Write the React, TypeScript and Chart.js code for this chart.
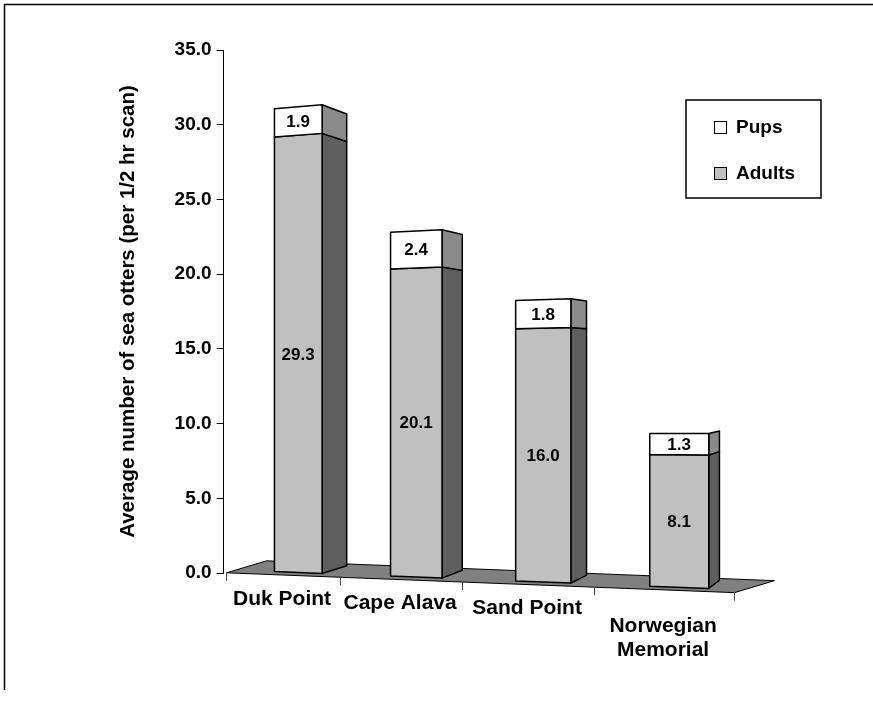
import React, { useEffect, useRef } from 'react';
import { Chart, registerables } from 'chart.js';

Chart.register(...registerables);

// ---- data ----
const categories: (string | string[])[] = ['Duk Point', 'Cape Alava', 'Sand Point', ['Norwegian', 'Memorial']];
const adults = [29.3, 20.1, 16.0, 8.1];
const pups = [1.9, 2.4, 1.8, 1.3];
const seriesLabels = ['Adults', 'Pups'];
const yAxisTitle = 'Average number of sea otters (per 1/2 hr scan)';
const yMin = 0;
const yMax = 35;
const yStep = 5;

// ---- styles ----
const FONT = '"Liberation Sans", Arial, Helvetica, sans-serif';
const STYLE = {
  front: ['#c0c0c0', '#ffffff'],
  side: ['#5f5f5f', '#8a8a8a'],
  floor: '#808080',
  edge: '#000000',
};
// perspective parameters of the 3-D look
const PERSP = {
  firstCenter: 74.5,
  spacing: 113.5,
  growth: 4.5,
  baseSlope: 0.039,
  scaleSlope: 0.00026,
  vpX: 1005,
  vpY: 360,
  depth: 0.036,
  floorFront: { dx: -16, dy: 2 },
  floorBack: { dx: 24, dy: -10 },
};
const LEGEND_BOX = { left: 686, top: 100, width: 135, height: 98 };

function poly(ctx: CanvasRenderingContext2D, pts: number[][], fill: string, stroke: string, lw: number) {
  ctx.beginPath();
  ctx.moveTo(pts[0][0], pts[0][1]);
  for (let i = 1; i < pts.length; i++) ctx.lineTo(pts[i][0], pts[i][1]);
  ctx.closePath();
  ctx.fillStyle = fill;
  ctx.fill();
  ctx.lineWidth = lw;
  ctx.strokeStyle = stroke;
  ctx.lineJoin = 'round';
  ctx.stroke();
}

const threeD = {
  id: 'threeD',
  beforeDatasetDraw() {
    return false;
  },
  afterDatasetsDraw(chart: any) {
    const ctx: CanvasRenderingContext2D = chart.ctx;
    const xs = chart.scales.x;
    const ys = chart.scales.y;
    const c0 = xs.getPixelForValue(0);
    const S = xs.getPixelForValue(1) - c0;
    const base = ys.getPixelForValue(0);
    const X0 = chart.chartArea.left + PERSP.firstCenter;
    const proj = (fx: number, fy: number, t: number) => {
      const u = (fx - c0) / S;
      const sx = X0 + PERSP.spacing * u + PERSP.growth * u * u;
      const h = base - fy;
      const sy = base + PERSP.baseSlope * (sx - X0) - (1 + PERSP.scaleSlope * (sx - X0)) * h;
      return [sx + t * (PERSP.vpX - sx), sy + t * (PERSP.vpY - sy)];
    };
    const floorPt = (fx: number, off: { dx: number; dy: number }) => {
      const p = proj(fx, base, 0);
      return [p[0] + off.dx, p[1] + off.dy];
    };
    const n = chart.data.labels.length;
    ctx.save();
    // floor
    const fl = c0 - S / 2;
    const fr = c0 + (n - 0.5) * S;
    poly(
      ctx,
      [floorPt(fl, PERSP.floorFront), floorPt(fr, PERSP.floorFront), floorPt(fr, PERSP.floorBack), floorPt(fl, PERSP.floorBack)],
      STYLE.floor,
      STYLE.edge,
      1
    );
    // category ticks
    ctx.strokeStyle = '#444';
    ctx.lineWidth = 1;
    for (let k = 0; k <= n; k++) {
      const p = floorPt(c0 + (k - 0.5) * S, PERSP.floorFront);
      ctx.beginPath();
      ctx.moveTo(Math.round(p[0]) + 0.5, p[1]);
      ctx.lineTo(Math.round(p[0]) + 0.5, p[1] + 8);
      ctx.stroke();
    }
    // category labels
    ctx.fillStyle = '#000';
    ctx.font = `bold 21px ${FONT}`;
    ctx.textAlign = 'center';
    ctx.textBaseline = 'middle';
    const lh = 24;
    chart.data.labels.forEach((lab: string | string[], j: number) => {
      const lines = Array.isArray(lab) ? lab : [lab];
      const p = floorPt(xs.getPixelForValue(j), PERSP.floorFront);
      const first = p[1] + 24 + ((lines.length - 1) * lh) / 2;
      lines.forEach((ln, li) => ctx.fillText(ln, p[0], first + li * lh));
    });
    // bars
    const nd = chart.data.datasets.length;
    for (let j = 0; j < n; j++) {
      for (let i = 0; i < nd; i++) {
        const el = chart.getDatasetMeta(i).data[j];
        const { x, y, base: b, width } = el.getProps(['x', 'y', 'base', 'width'], true);
        const L = x - width / 2;
        const R = x + width / 2;
        const d = PERSP.depth;
        poly(ctx, [proj(R, y, 0), proj(R, y, d), proj(R, b, d), proj(R, b, 0)], STYLE.side[i], STYLE.edge, 1.5);
        poly(ctx, [proj(L, b, 0), proj(R, b, 0), proj(R, y, 0), proj(L, y, 0)], STYLE.front[i], STYLE.edge, 1.5);
      }
    }
    // value labels
    ctx.font = `bold 17px ${FONT}`;
    ctx.fillStyle = '#000';
    for (let i = 0; i < nd; i++) {
      const meta = chart.getDatasetMeta(i);
      meta.data.forEach((el: any, j: number) => {
        const { x, y, base: b } = el.getProps(['x', 'y', 'base'], true);
        const p = proj(x, (y + b) / 2, 0);
        ctx.fillText(Number(chart.data.datasets[i].data[j]).toFixed(1), p[0], p[1] + 1);
      });
    }
    ctx.restore();
  },
  afterDraw(chart: any) {
    const ctx: CanvasRenderingContext2D = chart.ctx;
    ctx.save();
    // outer frame
    ctx.strokeStyle = '#000';
    ctx.lineWidth = 1.5;
    ctx.beginPath();
    ctx.moveTo(4.5, 690);
    ctx.lineTo(4.5, 4.5);
    ctx.lineTo(chart.width, 4.5);
    ctx.stroke();
    // legend
    const bx = LEGEND_BOX;
    ctx.lineWidth = 1.5;
    ctx.fillStyle = '#fff';
    ctx.fillRect(bx.left, bx.top, bx.width, bx.height);
    ctx.strokeRect(bx.left, bx.top, bx.width, bx.height);
    ctx.font = `bold 19px ${FONT}`;
    ctx.textAlign = 'left';
    ctx.textBaseline = 'middle';
    const nd = chart.data.datasets.length;
    for (let k = 0; k < nd; k++) {
      const i = nd - 1 - k;
      const cy = bx.top + 27 + k * 46;
      ctx.fillStyle = STYLE.front[i];
      ctx.fillRect(bx.left + 28, cy - 6, 12, 12);
      ctx.lineWidth = 1;
      ctx.strokeStyle = '#000';
      ctx.strokeRect(bx.left + 28.5, cy - 5.5, 12, 12);
      ctx.fillStyle = '#000';
      ctx.fillText(chart.data.datasets[i].label, bx.left + 50, cy + 1);
    }
    ctx.restore();
  },
};

export default function App() {
  const ref = useRef<HTMLCanvasElement>(null);
  useEffect(() => {
    const chart = new Chart(ref.current as HTMLCanvasElement, {
      type: 'bar',
      data: {
        labels: categories as any,
        datasets: [
          { label: seriesLabels[0], data: adults, backgroundColor: STYLE.front[0], barPercentage: 0.42, categoryPercentage: 1 },
          { label: seriesLabels[1], data: pups, backgroundColor: STYLE.front[1], barPercentage: 0.42, categoryPercentage: 1 },
        ],
      },
      options: {
        animation: false,
        responsive: true,
        maintainAspectRatio: false,
        layout: { padding: { left: 0, top: 50, right: 120, bottom: 129 } },
        plugins: { legend: { display: false }, tooltip: { enabled: false } },
        scales: {
          x: { stacked: true, display: false },
          y: {
            stacked: true,
            min: yMin,
            max: yMax,
            ticks: {
              stepSize: yStep,
              color: '#000',
              padding: 5,
              font: { family: FONT, size: 19, weight: 'bold' },
              callback: (v: any) => Number(v).toFixed(1),
            },
            grid: { drawOnChartArea: false, drawTicks: true, tickLength: 7, color: '#000' },
            border: { display: true, color: '#000', width: 1 },
            title: {
              display: true,
              text: yAxisTitle,
              color: '#000',
              font: { family: FONT, size: 20.5, weight: 'bold' },
              padding: { top: 116, bottom: 29 },
            },
          },
        },
      },
      plugins: [threeD as any],
    });
    return () => chart.destroy();
  }, []);
  return (
    <div style={{ position: 'absolute', left: 0, top: 0, width: 873, height: 702, background: '#fff' }}>
      <canvas ref={ref} />
    </div>
  );
}
